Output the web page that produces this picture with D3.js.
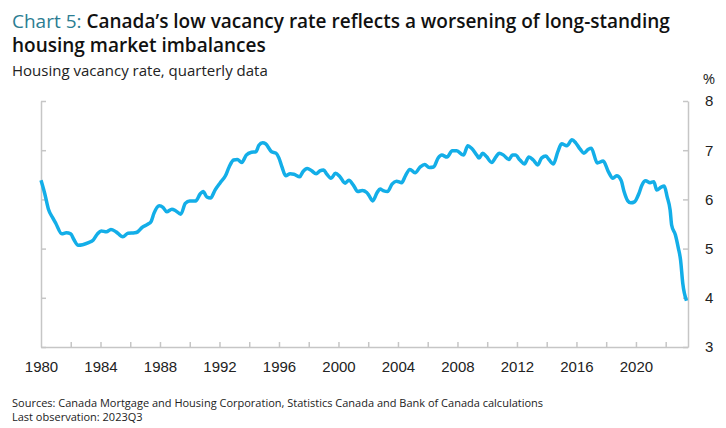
<!DOCTYPE html>
<html>
<head>
<meta charset="utf-8">
<script src="https://cdn.jsdelivr.net/npm/d3@7"></script>
<style>
  body { margin: 0; background: #fff; }
  svg { display: block; font-family: "Open Sans", "Noto Sans", sans-serif; }
  .axis path, .axis line { stroke: #c6c6c6; stroke-width: 1.5; }
  .axis text { fill: #222; font-size: 15px; }
</style>
</head>
<body>
<div id="chart"></div>
<script>
// (decimal year, vacancy rate %)
var dates = [
  1980.0, 1980.25, 1980.5, 1980.8, 1981.0, 1981.4, 1981.7, 1982.0, 1982.2, 1982.5,
  1982.8, 1983.2, 1983.5, 1983.8, 1984.05, 1984.4, 1984.7, 1985.05, 1985.5, 1985.85,
  1986.3, 1986.5, 1986.8, 1987.2, 1987.4, 1987.6, 1987.95, 1988.2, 1988.45, 1988.8,
  1989.05, 1989.4, 1989.7, 1990.0, 1990.4, 1990.7, 1990.9, 1991.15, 1991.4, 1991.7,
  1992.05, 1992.4, 1992.65, 1992.95, 1993.2, 1993.5, 1993.8, 1994.15, 1994.45, 1994.65,
  1994.9, 1995.1, 1995.5, 1995.8, 1996.0, 1996.2, 1996.45, 1996.75, 1997.0, 1997.4,
  1997.6, 1997.9, 1998.2, 1998.5, 1998.75, 1999.0, 1999.2, 1999.5, 1999.8, 2000.1,
  2000.45, 2000.7, 2001.0, 2001.3, 2001.6, 2001.9, 2002.05, 2002.3, 2002.6, 2002.8,
  2003.0, 2003.3, 2003.6, 2003.9, 2004.25, 2004.5, 2004.8, 2005.15, 2005.5, 2005.8,
  2006.1, 2006.4, 2006.7, 2006.95, 2007.3, 2007.65, 2007.95, 2008.4, 2008.7, 2008.95,
  2009.3, 2009.45, 2009.7, 2009.95, 2010.3, 2010.6, 2010.8, 2011.1, 2011.45, 2011.7,
  2011.9, 2012.2, 2012.5, 2012.8, 2013.1, 2013.4, 2013.65, 2013.95, 2014.15, 2014.45,
  2014.75, 2015.0, 2015.35, 2015.7, 2015.95, 2016.25, 2016.5, 2016.8, 2017.0, 2017.4,
  2017.8, 2018.15, 2018.45, 2018.7, 2019.0, 2019.2, 2019.45, 2019.65, 2019.9, 2020.2,
  2020.4, 2020.65, 2020.95, 2021.2, 2021.4, 2021.7, 2021.9, 2022.1, 2022.3, 2022.4,
  2022.65, 2022.85, 2023.0, 2023.15, 2023.4
];
var vacancy = [
  6.39, 6.12, 5.80, 5.62, 5.51, 5.30, 5.32, 5.30, 5.19, 5.07,
  5.08, 5.12, 5.17, 5.30, 5.36, 5.34, 5.39, 5.34, 5.24, 5.31,
  5.32, 5.34, 5.43, 5.50, 5.55, 5.72, 5.87, 5.84, 5.75, 5.80,
  5.77, 5.70, 5.92, 5.97, 5.97, 6.11, 6.16, 6.05, 6.03, 6.19,
  6.34, 6.48, 6.66, 6.80, 6.81, 6.75, 6.90, 6.96, 6.97, 7.10,
  7.15, 7.13, 6.97, 6.94, 6.84, 6.66, 6.48, 6.52, 6.51, 6.46,
  6.56, 6.63, 6.58, 6.52, 6.58, 6.60, 6.52, 6.43, 6.53, 6.46,
  6.33, 6.39, 6.29, 6.16, 6.18, 6.14, 6.08, 5.97, 6.14, 6.21,
  6.18, 6.16, 6.31, 6.37, 6.34, 6.48, 6.61, 6.54, 6.66, 6.71,
  6.65, 6.66, 6.84, 6.90, 6.86, 6.99, 6.99, 6.90, 7.09, 7.04,
  6.90, 6.84, 6.94, 6.87, 6.75, 6.87, 6.94, 6.90, 6.81, 6.90,
  6.90, 6.80, 6.72, 6.86, 6.80, 6.70, 6.84, 6.88, 6.81, 6.72,
  6.97, 7.13, 7.09, 7.21, 7.15, 7.02, 6.94, 7.02, 7.04, 6.74,
  6.78, 6.56, 6.43, 6.48, 6.39, 6.16, 5.97, 5.93, 5.95, 6.12,
  6.29, 6.38, 6.34, 6.36, 6.19, 6.25, 6.27, 6.05, 5.78, 5.48,
  5.28, 5.01, 4.77, 4.29, 3.94
];
var yTicks = [3, 4, 5, 6, 7, 8];
var yearLabels = [1980, 1984, 1988, 1992, 1996, 2000, 2004, 2008, 2012, 2016, 2020];
var yearTicks = [1982, 1984, 1986, 1988, 1990, 1992, 1994, 1996, 1998, 2000, 2002,
                 2004, 2006, 2008, 2010, 2012, 2014, 2016, 2018, 2020, 2022];

var W = 726, H = 428;
var margin = {top: 101, right: 38, bottom: 81, left: 41};
var width = W - margin.left - margin.right;
var height = H - margin.top - margin.bottom;

var svg = d3.select("#chart").append("svg")
  .attr("width", W)
  .attr("height", H);

// titles
var title = svg.append("text")
  .attr("x", 12)
  .attr("y", 28)
  .style("font-size", "19px")
  .style("font-weight", 600);
title.append("tspan").attr("fill", "#2b7d92").style("font-weight", 400).text("Chart 5: ");
title.append("tspan").attr("fill", "#111").text("Canada\u2019s low vacancy rate reflects a worsening of long-standing");

svg.append("text")
  .attr("x", 12)
  .attr("y", 52)
  .style("font-size", "19px")
  .style("font-weight", 600)
  .attr("fill", "#111")
  .text("housing market imbalances");

svg.append("text")
  .attr("x", 12)
  .attr("y", 76)
  .style("font-size", "15px")
  .attr("fill", "#222")
  .text("Housing vacancy rate, quarterly data");

svg.append("text")
  .attr("x", 709)
  .attr("y", 84)
  .attr("text-anchor", "middle")
  .style("font-size", "15px")
  .attr("fill", "#222")
  .text("%");

var g = svg.append("g")
  .attr("transform", "translate(" + margin.left + "," + margin.top + ")");

var x = d3.scaleLinear()
  .domain([1980, 2023.5])
  .range([0, width]);

var y = d3.scaleLinear()
  .domain([3, 8])
  .range([height, 0]);

// left axis: ticks only
g.append("g")
  .attr("class", "axis")
  .call(d3.axisLeft(y).tickValues(yTicks).tickSizeInner(-5).tickSizeOuter(0).tickFormat(""));

// right axis with labels
g.append("g")
  .attr("class", "axis")
  .attr("transform", "translate(" + width + ",0)")
  .call(d3.axisRight(y).tickValues(yTicks).tickSizeInner(-5).tickSizeOuter(0)
    .tickPadding(17).tickFormat(d3.format("d")));

// bottom axis: minor ticks every 2 years
g.append("g")
  .attr("class", "axis")
  .attr("transform", "translate(0," + height + ")")
  .call(d3.axisBottom(x).tickValues(yearTicks).tickSizeInner(-5).tickSizeOuter(0).tickFormat(""));

// year labels
g.append("g")
  .attr("class", "axis labels")
  .attr("transform", "translate(0," + height + ")")
  .call(d3.axisBottom(x).tickValues(yearLabels).tickSize(0).tickPadding(14).tickFormat(d3.format("d")))
  .call(function(s) { s.select(".domain").remove(); });

// the series
var line = d3.line()
  .x(function(d, i) { return x(dates[i]); })
  .y(function(d) { return y(d); })
  .curve(d3.curveMonotoneX);

g.append("path")
  .datum(vacancy)
  .attr("fill", "none")
  .attr("stroke", "#13aee8")
  .attr("stroke-width", 3.5)
  .attr("stroke-linejoin", "round")
  .attr("d", line);

// notes
svg.append("text")
  .attr("x", 12)
  .attr("y", 407)
  .style("font-size", "11px")
  .attr("fill", "#222")
  .text("Sources: Canada Mortgage and Housing Corporation, Statistics Canada and Bank of Canada calculations");

svg.append("text")
  .attr("x", 12)
  .attr("y", 421)
  .style("font-size", "11px")
  .attr("fill", "#222")
  .text("Last observation: 2023Q3");
</script>
</body>
</html>
